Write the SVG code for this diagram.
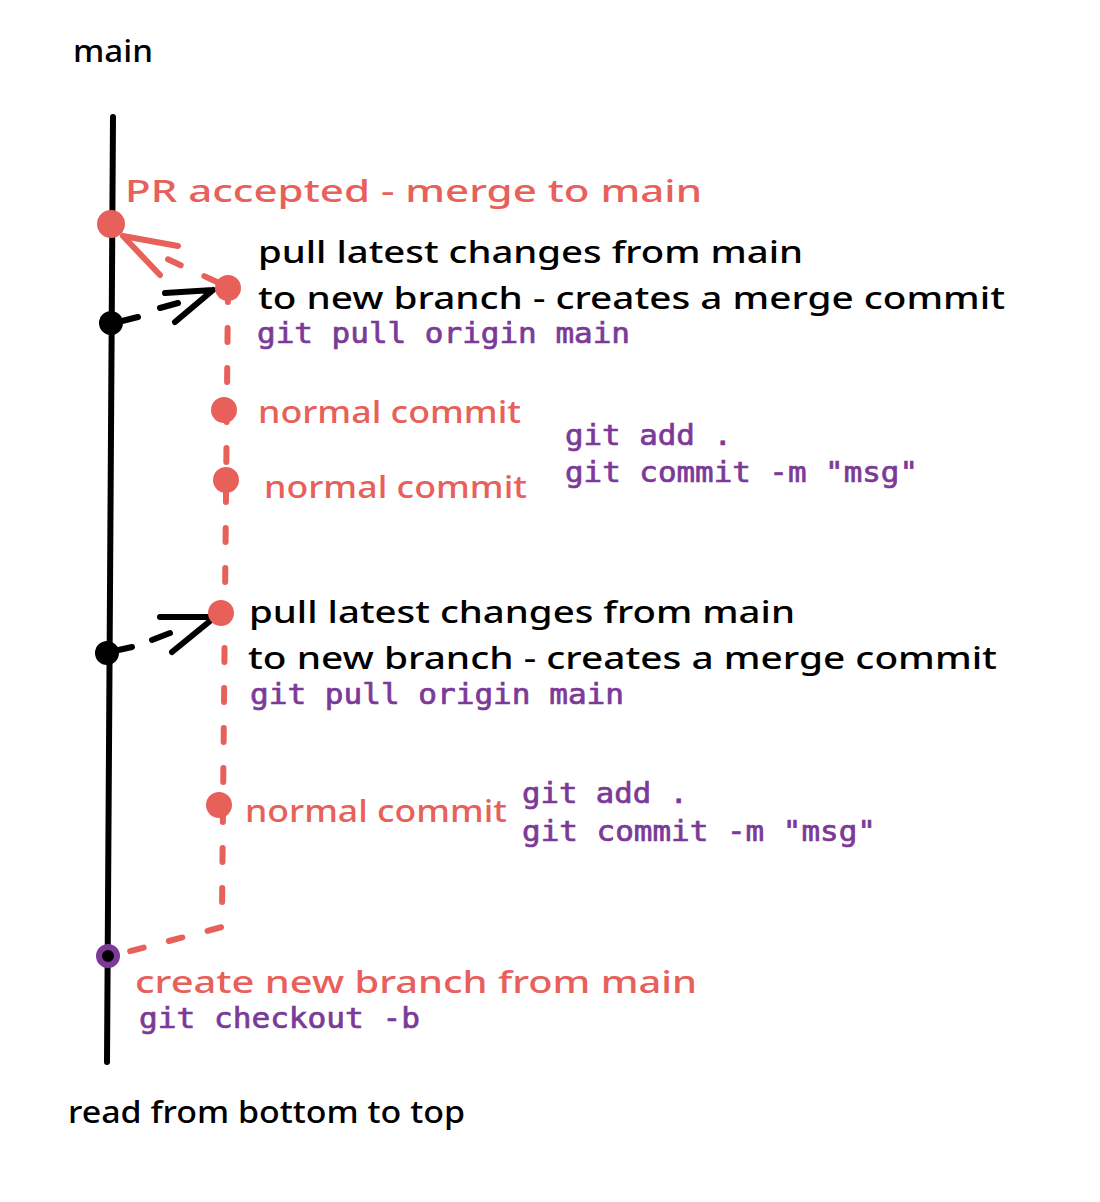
<svg xmlns="http://www.w3.org/2000/svg" width="1100" height="1202" viewBox="0 0 1100 1202">
<style>
.hand{font-family:"Noto Sans","DejaVu Sans",sans-serif;font-size:30px;font-weight:500}
.code{font-family:"DejaVu Sans Mono","Liberation Mono",monospace;font-size:28px;fill:#7c3a98;stroke:#7c3a98;stroke-width:0.7}
.blk{fill:#000}
.red{fill:#e8605a}
.ln{fill:none;stroke-linecap:round;stroke-linejoin:round}
.dash-red{stroke:#e8605a;stroke-width:6;stroke-dasharray:14 26}
</style>
<rect width="1100" height="1202" fill="#fff"/>
<g id="connectors">
  <path id="main-line" class="ln" d="M113,117 L107,1062" stroke="#000" stroke-width="6"/>
  <path id="branch-line" class="ln dash-red" d="M228,288 L222,912 L222,927 L112,956"/>
  <g id="arrow-merge" class="ln">
    <path class="dash-red" d="M217,282 L163,257"/>
    <path d="M123,236 L178,246 M123,236 L160,275" stroke="#e8605a" stroke-width="6"/>
  </g>
  <g id="arrow-pull-1" class="ln">
    <path d="M118,322 L138,317 M160,308 L178,303" stroke="#000" stroke-width="6"/>
    <path d="M213,290 L165,293 M213,290 L175,322" stroke="#000" stroke-width="6"/>
  </g>
  <g id="arrow-pull-2" class="ln">
    <path d="M114,651 L132,647 M152,640 L170,633" stroke="#000" stroke-width="6"/>
    <path d="M215,617 L160,617 M215,617 L172,652" stroke="#000" stroke-width="6"/>
  </g>
</g>
<g id="label-main"><text class="hand blk" x="73" y="62" font-size="26" textLength="80" lengthAdjust="spacingAndGlyphs">main</text></g>
<g id="node-pr-accepted">
  <circle cx="111" cy="224" r="14" fill="#e8605a"/>
  <text class="hand red" x="125" y="202" font-size="31" textLength="577" lengthAdjust="spacingAndGlyphs">PR accepted - merge to main</text>
</g>
<g id="node-merge-main">
  <circle cx="111" cy="323" r="12" fill="#000"/>
</g>
<g id="node-merge-commit-2">
  <circle cx="228" cy="288" r="13" fill="#e8605a"/>
  <text class="hand blk" x="258" y="263" textLength="545" lengthAdjust="spacingAndGlyphs">pull latest changes from main</text>
  <text class="hand blk" x="258" y="309" textLength="747" lengthAdjust="spacingAndGlyphs">to new branch - creates a merge commit</text>
  <text class="code" x="257" y="343" textLength="373" lengthAdjust="spacingAndGlyphs">git pull origin main</text>
</g>
<g id="node-commit-3">
  <circle cx="224" cy="410" r="13" fill="#e8605a"/>
  <text class="hand red" x="258" y="423" textLength="263" lengthAdjust="spacingAndGlyphs">normal commit</text>
</g>
<g id="node-commit-4">
  <circle cx="226" cy="480" r="13" fill="#e8605a"/>
  <text class="hand red" x="264" y="498" textLength="263" lengthAdjust="spacingAndGlyphs">normal commit</text>
</g>
<g id="label-commit-cmds-1">
  <text class="code" x="565" y="445" textLength="167" lengthAdjust="spacingAndGlyphs">git add .</text>
  <text class="code" x="565" y="482" textLength="353" lengthAdjust="spacingAndGlyphs">git commit -m "msg"</text>
</g>
<g id="node-merge-main-2">
  <circle cx="107" cy="653" r="12" fill="#000"/>
</g>
<g id="node-merge-commit-1">
  <circle cx="221" cy="613" r="13" fill="#e8605a"/>
  <text class="hand blk" x="249" y="623" textLength="546" lengthAdjust="spacingAndGlyphs">pull latest changes from main</text>
  <text class="hand blk" x="248" y="669" textLength="749" lengthAdjust="spacingAndGlyphs">to new branch - creates a merge commit</text>
  <text class="code" x="250" y="704" textLength="374" lengthAdjust="spacingAndGlyphs">git pull origin main</text>
</g>
<g id="node-commit-1">
  <circle cx="219" cy="805" r="13" fill="#e8605a"/>
  <text class="hand red" x="245" y="822" textLength="262" lengthAdjust="spacingAndGlyphs">normal commit</text>
</g>
<g id="label-commit-cmds-2">
  <text class="code" x="522" y="803" textLength="166" lengthAdjust="spacingAndGlyphs">git add .</text>
  <text class="code" x="522" y="841" textLength="354" lengthAdjust="spacingAndGlyphs">git commit -m "msg"</text>
</g>
<g id="node-branch-start">
  <circle cx="108" cy="956" r="9" fill="#000" stroke="#7c3a98" stroke-width="6"/>
  <text class="hand red" x="135" y="993" textLength="562" lengthAdjust="spacingAndGlyphs">create new branch from main</text>
  <text class="code" x="139" y="1028" textLength="281" lengthAdjust="spacingAndGlyphs">git checkout -b</text>
</g>
<g id="label-footer"><text class="hand blk" x="68" y="1123" font-size="26" textLength="397" lengthAdjust="spacingAndGlyphs">read from bottom to top</text></g>
</svg>
